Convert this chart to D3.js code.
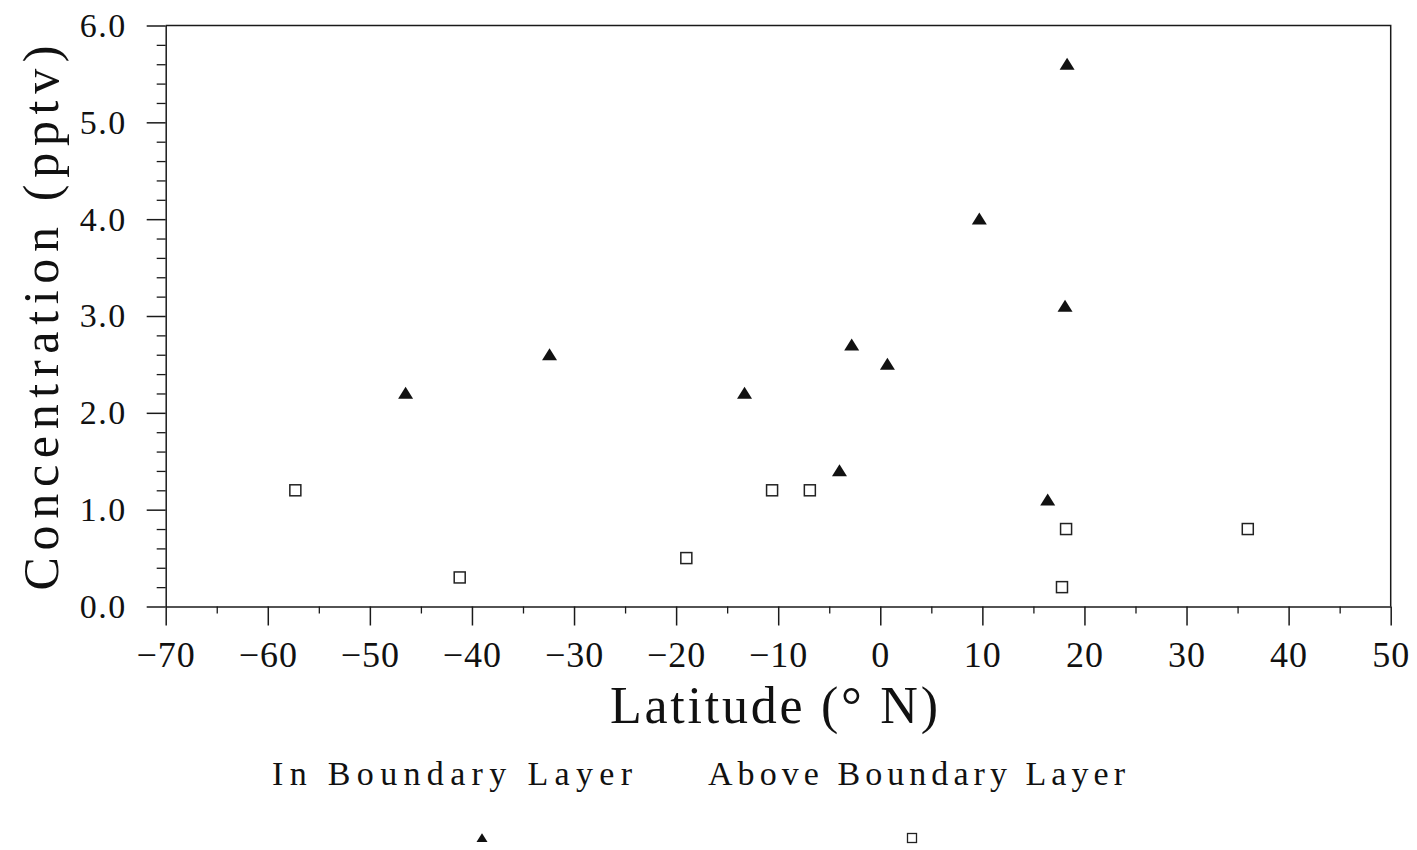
<!DOCTYPE html>
<html>
<head>
<meta charset="utf-8">
<script src="https://cdn.jsdelivr.net/npm/d3@7"></script>
<style>
  html, body { margin: 0; padding: 0; background: #fff; }
  svg { display: block; }
  text { font-family: "Liberation Serif", "DejaVu Serif", serif; fill: #111; }
</style>
</head>
<body>
<svg id="chart" width="1417" height="850"></svg>
<script>
// values
const inBLLat  = [-46.5, -32.4, -13.3, -2.8, 0.7, -4.0, 9.7, 18.3, 18.1, 16.4];
const inBLConc = [2.2, 2.6, 2.2, 2.7, 2.5, 1.4, 4.0, 5.6, 3.1, 1.1];
const aboveBLLat  = [-57.3, -41.2, -19.0, -10.6, -6.9, 18.2, 17.8, 36.0];
const aboveBLConc = [1.2, 0.3, 0.5, 1.2, 1.2, 0.8, 0.2, 0.8];
const xTicks = [-70, -60, -50, -40, -30, -20, -10, 0, 10, 20, 30, 40, 50];
const yTicks = [0, 1, 2, 3, 4, 5, 6];
const legendLabels = ["In Boundary Layer", "Above Boundary Layer"];

const svg = d3.select("#chart");
const margin = { top: 25.5, right: 26.3, bottom: 243.5, left: 165.7 };
const W = 1417, H = 850;

const x = d3.scaleLinear().domain([-70, 50]).range([margin.left, W - margin.right]);
const y = d3.scaleLinear().domain([0, 6]).range([H - margin.bottom, margin.top]);

const ink = "#1a1a1a";

// frame (top and right sides)
svg.append("path")
  .attr("d", `M${x(-70)},${y(6)}H${x(50)}V${y(0)}`)
  .attr("fill", "none").attr("stroke", ink).attr("stroke-width", 1.5);

// minor ticks
const yMinor = d3.range(0, 6.001, 0.2).filter(v => Math.abs(v - Math.round(v)) > 1e-6);
svg.append("g")
  .attr("transform", `translate(${x(-70)},0)`)
  .call(d3.axisLeft(y).tickValues(yMinor).tickSize(9).tickFormat(""))
  .call(g => g.select(".domain").remove())
  .call(g => g.selectAll("line").attr("stroke", ink).attr("stroke-width", 1.3));

const xMinor = d3.range(-65, 50, 10);
svg.append("g")
  .attr("transform", `translate(0,${y(0)})`)
  .call(d3.axisBottom(x).tickValues(xMinor).tickSize(7).tickFormat(""))
  .call(g => g.select(".domain").remove())
  .call(g => g.selectAll("line").attr("stroke", ink).attr("stroke-width", 1.3));

// main axes
svg.append("g")
  .attr("transform", `translate(${x(-70)},0)`)
  .call(d3.axisLeft(y).tickValues(yTicks).tickSize(19).tickSizeOuter(0).tickPadding(20)
    .tickFormat(d3.format(".1f")))
  .call(g => g.selectAll("line, .domain").attr("stroke", ink).attr("stroke-width", 1.5))
  .call(g => g.selectAll("text").attr("font-size", 34)
    .attr("fill", ink).attr("letter-spacing", 1.5));

svg.append("g")
  .attr("transform", `translate(0,${y(0)})`)
  .call(d3.axisBottom(x).tickValues(xTicks).tickSize(19).tickSizeOuter(0).tickPadding(16))
  .call(g => g.selectAll("line, .domain").attr("stroke", ink).attr("stroke-width", 1.5))
  .call(g => g.selectAll("text").attr("font-size", 36)
    .attr("fill", ink).attr("letter-spacing", 1));

// axis titles
svg.append("text")
  .attr("transform", `translate(58,${(y(0) + y(6)) / 2 + 2}) rotate(-90)`)
  .attr("text-anchor", "middle")
  .attr("font-size", 50)
  .attr("textLength", 545).attr("lengthAdjust", "spacing")
  .text("Concentration (pptv)");

svg.append("text")
  .attr("x", 610).attr("y", 723)
  .attr("font-size", 52)
  .attr("textLength", 328).attr("lengthAdjust", "spacing")
  .text("Latitude (\u00B0 N)");

// markers
const triPath = s => {
  const h = s * 0.8;
  return `M0,${-h * 0.55}L${s / 2},${h * 0.45}L${-s / 2},${h * 0.45}Z`;
};

svg.append("g").selectAll("path")
  .data(inBLLat.map((v, i) => [v, inBLConc[i]]))
  .join("path")
  .attr("transform", d => `translate(${x(d[0])},${y(d[1])})`)
  .attr("d", triPath(15))
  .attr("fill", "#111");

svg.append("g").selectAll("rect")
  .data(aboveBLLat.map((v, i) => [v, aboveBLConc[i]]))
  .join("rect")
  .attr("x", d => x(d[0]) - 5.5).attr("y", d => y(d[1]) - 5.5)
  .attr("width", 11).attr("height", 11)
  .attr("fill", "#fff").attr("stroke", "#222").attr("stroke-width", 1.5);

// legend
const legendX = [272, 708];
const legendW = [360, 417];
const legendMarkX = [482, 912];
legendLabels.forEach((lab, i) => {
  svg.append("text")
    .attr("x", legendX[i]).attr("y", 785)
    .attr("font-size", 34)
    .attr("textLength", legendW[i]).attr("lengthAdjust", "spacing")
    .text(lab);
});
svg.append("path")
  .attr("transform", `translate(${legendMarkX[0]},838)`)
  .attr("d", triPath(11)).attr("fill", "#111");
svg.append("rect")
  .attr("x", legendMarkX[1] - 4.5).attr("y", 838 - 4.5)
  .attr("width", 9).attr("height", 9)
  .attr("fill", "#fff").attr("stroke", "#222").attr("stroke-width", 1.3);
</script>
</body>
</html>
